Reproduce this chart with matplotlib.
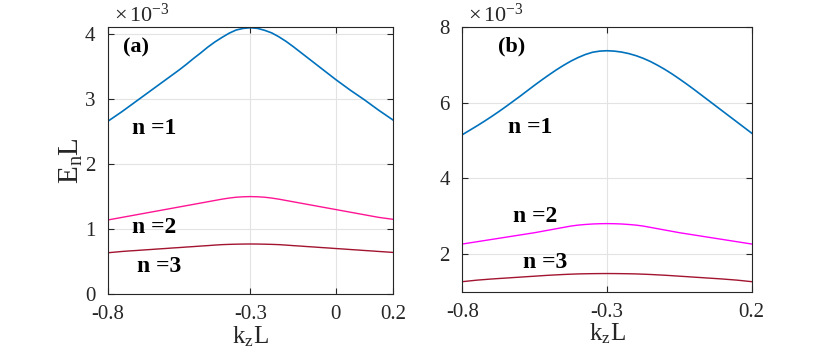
import numpy as np
from matplotlib import pyplot as plt

plt.rcParams['font.family'] = ['Liberation Serif', 'DejaVu Serif']
plt.rcParams['mathtext.fontset'] = 'custom'
plt.rcParams['mathtext.rm'] = 'Liberation Serif'
plt.rcParams['mathtext.it'] = 'Liberation Serif'
plt.rcParams['axes.unicode_minus'] = False

# k_z L samples
kz = [-0.8, -0.775, -0.75, -0.725, -0.7, -0.675, -0.65, -0.625, -0.6, -0.575,
      -0.55, -0.525, -0.5, -0.475, -0.45, -0.425, -0.4, -0.375, -0.35, -0.325,
      -0.3, -0.275, -0.25, -0.225, -0.2, -0.175, -0.15, -0.125, -0.1, -0.075,
      -0.05, -0.025, 0.0, 0.025, 0.05, 0.075, 0.1, 0.125, 0.15, 0.175, 0.2]

# panel (a), E_n L in units of 1e-3
a_n1 = [2.66, 2.735, 2.81, 2.89, 2.97, 3.05, 3.13, 3.21, 3.29, 3.37,
        3.45, 3.535, 3.625, 3.71, 3.80, 3.88, 3.95, 4.015, 4.065, 4.09,
        4.10, 4.09, 4.06, 4.02, 3.96, 3.89, 3.81, 3.725, 3.64, 3.555,
        3.47, 3.385, 3.30, 3.22, 3.14, 3.065, 2.99, 2.91, 2.83, 2.755, 2.68]
a_n2 = [1.14, 1.16, 1.18, 1.20, 1.22, 1.24, 1.26, 1.28, 1.30, 1.32,
        1.34, 1.36, 1.38, 1.40, 1.42, 1.44, 1.46, 1.477, 1.49, 1.497,
        1.50, 1.497, 1.49, 1.477, 1.46, 1.44, 1.42, 1.40, 1.38, 1.36,
        1.34, 1.32, 1.30, 1.28, 1.26, 1.24, 1.22, 1.20, 1.18, 1.165, 1.15]
a_n3 = [0.635, 0.645, 0.655, 0.663, 0.67, 0.678, 0.685, 0.693, 0.70, 0.708,
        0.715, 0.723, 0.73, 0.738, 0.745, 0.753, 0.76, 0.764, 0.767, 0.769,
        0.77, 0.769, 0.767, 0.764, 0.76, 0.753, 0.745, 0.738, 0.73, 0.723,
        0.715, 0.708, 0.70, 0.693, 0.685, 0.678, 0.67, 0.663, 0.655, 0.648, 0.64]

# panel (b)
b_n1 = [5.15, 5.265, 5.38, 5.50, 5.625, 5.755, 5.89, 6.03, 6.17, 6.315,
        6.46, 6.60, 6.735, 6.865, 6.985, 7.095, 7.19, 7.27, 7.33, 7.36,
        7.37, 7.36, 7.335, 7.295, 7.24, 7.17, 7.085, 6.985, 6.875, 6.755,
        6.625, 6.49, 6.35, 6.205, 6.06, 5.915, 5.77, 5.625, 5.48, 5.335, 5.19]
b_n2 = [2.26, 2.29, 2.32, 2.35, 2.38, 2.41, 2.44, 2.47, 2.50, 2.53,
        2.56, 2.595, 2.63, 2.665, 2.70, 2.735, 2.76, 2.777, 2.79, 2.797,
        2.80, 2.797, 2.79, 2.777, 2.76, 2.735, 2.70, 2.665, 2.63, 2.595,
        2.56, 2.53, 2.50, 2.47, 2.44, 2.41, 2.38, 2.35, 2.32, 2.29, 2.26]
b_n3 = [1.265, 1.285, 1.305, 1.32, 1.335, 1.348, 1.36, 1.373, 1.385, 1.398,
        1.41, 1.423, 1.435, 1.445, 1.455, 1.463, 1.47, 1.474, 1.477, 1.479,
        1.48, 1.479, 1.477, 1.474, 1.47, 1.463, 1.455, 1.445, 1.435, 1.423,
        1.41, 1.398, 1.385, 1.373, 1.36, 1.348, 1.335, 1.32, 1.305, 1.285, 1.265]

blue = '#0072BD'
darkred = '#A2142F'

fig = plt.figure(figsize=(8.3, 3.54), dpi=100)
ax1 = fig.add_axes([0.130, 0.1695, 0.3434, 0.754])
ax2 = fig.add_axes([0.557, 0.176, 0.3487, 0.748])


def style(ax, xt, yt, ylim):
    ax.set_xlim(-0.8, 0.2)
    ax.set_ylim(*ylim)
    ax.set_xticks(xt)
    ax.set_xticklabels([('%g' % v) for v in xt])
    ax.set_yticks(yt)
    ax.grid(True, color='#e3e3e3', linewidth=0.8)
    ax.set_axisbelow(True)
    ax.tick_params(direction='in', top=True, right=True, length=4,
                   labelsize=15, color='#262626', labelcolor='#262626')
    ax.tick_params(axis='x', pad=8)
    ax.tick_params(axis='y', pad=9)
    for s in ax.spines.values():
        s.set_color('#262626')
        s.set_linewidth(0.8)
    ax.set_xlabel(r'$\mathrm{k_zL}$', fontsize=18, labelpad=0, color='#262626')
    ax.text(0.02, 1.0, r'$\times\,10^{-3}$', transform=ax.transAxes,
            fontsize=16, ha='left', va='bottom', color='#262626')


ax1.plot(kz, a_n1, color=blue, lw=1.2)
ax1.plot(kz, a_n2, color='#FF1493', lw=1.0)
ax1.plot(kz, a_n3, color=darkred, lw=1.0)
style(ax1, [-0.8, -0.3, 0, 0.2], [0, 1, 2, 3, 4], (0, 4.11))
ax1.set_ylabel(r'$\mathrm{E_nL}$', fontsize=21, labelpad=0, color='#262626')

ax1.text(-0.747, 3.8, '(a)', fontsize=16, fontweight='bold', va='center')
ax1.text(-0.716, 2.55, 'n =1', fontsize=17, fontweight='bold', va='center')
ax1.text(-0.716, 1.02, 'n =2', fontsize=17, fontweight='bold', va='center')
ax1.text(-0.698, 0.42, 'n =3', fontsize=17, fontweight='bold', va='center')

ax2.plot(kz, b_n1, color=blue, lw=1.2)
ax2.plot(kz, b_n2, color='#FF00FF', lw=1.0)
ax2.plot(kz, b_n3, color=darkred, lw=1.0)
style(ax2, [-0.8, -0.3, 0.2], [2, 4, 6, 8], (1.0, 8.0))

ax2.text(-0.677, 7.47, '(b)', fontsize=16, fontweight='bold', va='center')
ax2.text(-0.641, 5.33, 'n =1', fontsize=17, fontweight='bold', va='center')
ax2.text(-0.624, 2.98, 'n =2', fontsize=17, fontweight='bold', va='center')
ax2.text(-0.589, 1.76, 'n =3', fontsize=17, fontweight='bold', va='center')

fig.savefig('out.png', dpi=100)
